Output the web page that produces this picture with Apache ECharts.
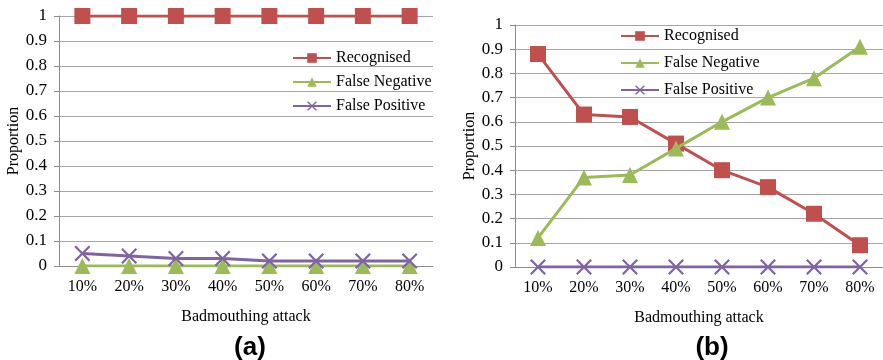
<!DOCTYPE html>
<html>
<head>
<meta charset="utf-8">
<script src="https://cdn.jsdelivr.net/npm/echarts@6/dist/echarts.min.js"></script>
<style>
  html, body { margin: 0; padding: 0; background: #ffffff; }
  #chart { width: 883px; height: 360px; }
</style>
</head>
<body>
<div id="chart"></div>
<script>
// Attack levels along the x axis
const categories = ['10%', '20%', '30%', '40%', '50%', '60%', '70%', '80%'];
const seriesNames = ['Recognised', 'False Negative', 'False Positive'];

// Panel (a)
const recognisedA = [1, 1, 1, 1, 1, 1, 1, 1];
const falseNegativeA = [0, 0, 0, 0, 0, 0, 0, 0];
const falsePositiveA = [0.05, 0.04, 0.03, 0.03, 0.02, 0.02, 0.02, 0.02];

// Panel (b)
const recognisedB = [0.88, 0.63, 0.62, 0.51, 0.40, 0.33, 0.22, 0.09];
const falseNegativeB = [0.12, 0.37, 0.38, 0.49, 0.60, 0.70, 0.78, 0.91];
const falsePositiveB = [0, 0, 0, 0, 0, 0, 0, 0];

const colors = ['#C0504D', '#9BBB59', '#8064A2'];
const crossSymbol = 'path://M0,1 L1,0 L5,4 L9,0 L10,1 L6,5 L10,9 L9,10 L5,6 L1,10 L0,9 L4,5 Z';
const symbols = ['rect', 'triangle', crossSymbol];
const symbolSizes = [16, 16, 16];
const serif = '"Liberation Serif", "Times New Roman", serif';

function makeX(gridIndex) {
  return {
    type: 'category', gridIndex: gridIndex, data: categories,
    boundaryGap: true,
    name: 'Badmouthing attack', nameLocation: 'middle', nameGap: 43,
    nameTextStyle: { fontFamily: serif, fontSize: 16, color: '#000' },
    axisLine: { lineStyle: { color: '#8c8c8c', width: 1 } },
    axisTick: { show: false },
    axisLabel: { fontFamily: serif, fontSize: 16, color: '#000', margin: 13 }
  };
}
function makeY(gridIndex) {
  return {
    type: 'value', gridIndex: gridIndex, min: 0, max: 1, interval: 0.1,
    name: 'Proportion', nameLocation: 'middle', nameGap: 37, nameRotate: 90,
    nameTextStyle: { fontFamily: serif, fontSize: 16, color: '#000' },
    axisLine: { show: true, lineStyle: { color: '#8c8c8c', width: 1 } },
    axisTick: { show: true, length: 5, lineStyle: { color: '#8c8c8c' } },
    axisLabel: { fontFamily: serif, fontSize: 17, color: '#000', margin: 12 },
    splitLine: { lineStyle: { color: '#a6a6a6', width: 1 } }
  };
}
function makeSeries(gridIndex, values) {
  return values.map(function (vals, i) {
    return {
      name: seriesNames[i], type: 'line',
      xAxisIndex: gridIndex, yAxisIndex: gridIndex,
      data: vals,
      symbol: symbols[i], symbolSize: symbolSizes[i],
      showAllSymbol: true,
      lineStyle: { color: colors[i], width: 3 },
      itemStyle: { color: colors[i] },
      z: 2 + i
    };
  });
}
function makeLegend(left, top, gap) {
  return {
    data: seriesNames, orient: 'vertical', left: left, top: top,
    padding: 0,
    itemWidth: 38, itemHeight: 12, itemGap: gap,
    textStyle: { fontFamily: serif, fontSize: 16, color: '#000', lineHeight: 16 },
    selectedMode: false
  };
}

const chart = echarts.init(document.getElementById('chart'), null, { renderer: 'canvas' });
chart.setOption({
  animation: false,
  color: colors,
  title: [
    { text: '(a)', left: 245, top: 330, textAlign: 'center',
      textStyle: { fontFamily: '"Liberation Sans", Arial, sans-serif', fontWeight: 'bold', fontSize: 26, color: '#000' } },
    { text: '(b)', left: 707, top: 330, textAlign: 'center',
      textStyle: { fontFamily: '"Liberation Sans", Arial, sans-serif', fontWeight: 'bold', fontSize: 26, color: '#000' } }
  ],
  legend: [makeLegend(292, 50, 8), makeLegend(620, 28, 11)],
  grid: [
    { left: 59, top: 16, width: 374, height: 250 },
    { left: 515, top: 25, width: 371, height: 242 }
  ],
  xAxis: [makeX(0), makeX(1)],
  yAxis: [makeY(0), makeY(1)],
  series: makeSeries(0, [recognisedA, falseNegativeA, falsePositiveA])
    .concat(makeSeries(1, [recognisedB, falseNegativeB, falsePositiveB]))
});
</script>
</body>
</html>
